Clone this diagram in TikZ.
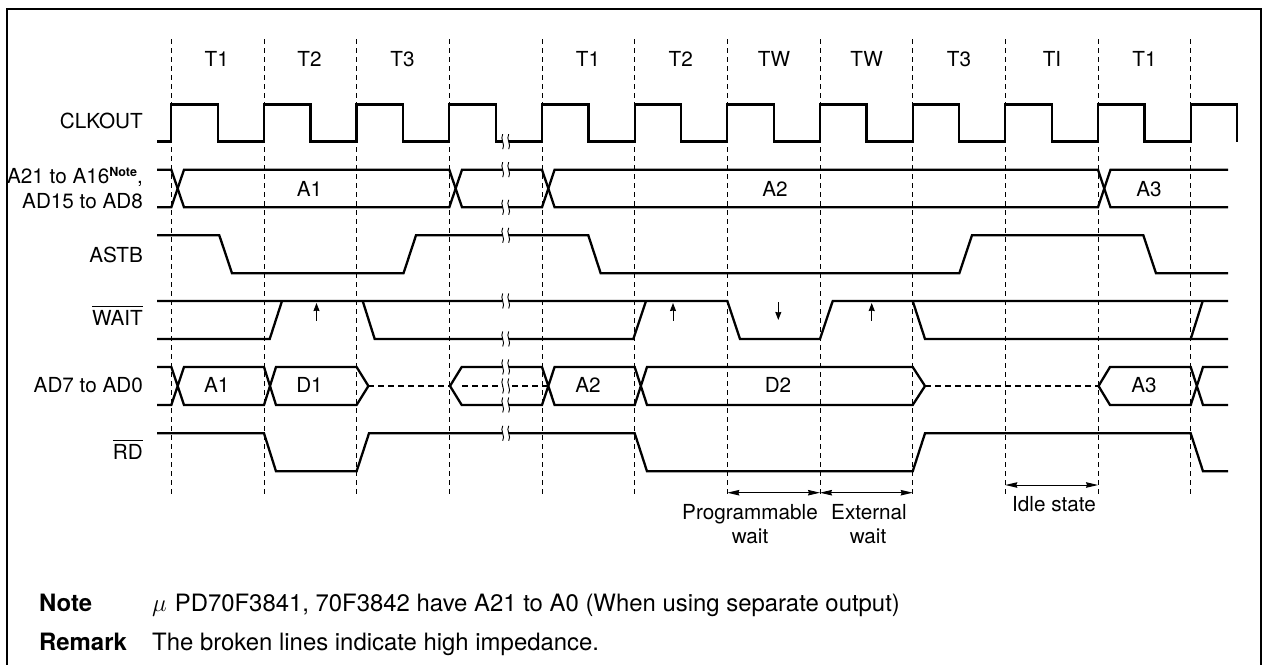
\documentclass[tikz,border=0pt]{standalone}
\usepackage{fontspec}
\setmainfont{TeX Gyre Heros}
\usetikzlibrary{arrows.meta}
\tikzset{
  x=1pt,y=-1pt,
  sig/.style={line width=2.3pt,line join=miter,line cap=butt},
  hiz/.style={line width=2.3pt,dash pattern=on 6pt off 4pt},
  grid/.style={line width=1.25pt,dash pattern=on 5pt off 4pt},
  meas/.style={line width=1pt,{Stealth[length=12pt,width=5.5pt,inset=1pt]}-{Stealth[length=12pt,width=5.5pt,inset=1pt]}},
  edgearrow/.style={line width=1pt,-{Stealth[length=8pt,width=6pt,inset=0.5pt]}},
  lab/.style={font=\fontsize{20.7}{23}\selectfont,inner sep=0pt},
  labr/.style={lab,anchor=base east},
  labc/.style={lab,anchor=base},
  labl/.style={lab,anchor=base west},
  notefont/.style={font=\fontsize{23.9}{27}\selectfont},
  notebold/.style={font=\fontsize{23.9}{27}\selectfont\bfseries},
  brk/.pic={
    \fill[white] (-3,-7.5) .. controls (-6,-3) and (0,3) .. (-3,7.5) -- (3,7.5) .. controls (6,3) and (0,-3) .. (3,-7.5) -- cycle;
    \draw[line width=0.9pt] (-3,-7.5) .. controls (-6,-3) and (0,3) .. (-3,7.5);
    \draw[line width=0.9pt] (3,-7.5) .. controls (0,-3) and (6,3) .. (3,7.5);
  }
}
\newcommand{\ovl}[1]{\setbox0\hbox{#1}\rlap{\rule[18.5pt]{\wd0}{1pt}}\box0\relax}
\begin{document}
\begin{tikzpicture}
\useasboundingbox (0,0) rectangle (1263,664);
% frame
\draw[line width=2.8pt] (7,700) -- (7,9) -- (1261,9) -- (1261,700);
% grid
\foreach \x in {171.3,264.4,356.6,449.3,542.4,634.7,727.3,820.4,912.7,1005.3,1098.4,1190.7}
  \draw[grid] (\x,39) -- (\x,497);
% period labels
\node[labc] (p1) at (216.7,66.7) {T1};
\node[labc] (p2) at (309.5,66.7) {T2};
\node[labc] (p3) at (402.5,66.7) {T3};
\node[labc] (p4) at (588,66.7) {T1};
\node[labc] (p5) at (680.7,66.7) {T2};
\node[labc] (p6) at (774,66.7) {TW};
\node[labc] (p7) at (866.7,66.7) {TW};
\node[labc] (p8) at (959,66.7) {T3};
\node[labc] (p9) at (1052,66.7) {TI};
\node[labc] (p10) at (1144.5,66.7) {T1};
% signal names
\node[labr] (n1) at (143,128) {CLKOUT};
\node[labr] (n2) at (143,183) {A21 to A16\raisebox{7pt}{\fontsize{12.5}{14}\selectfont\bfseries Note},};
\node[labr] (n3) at (143,208.3) {AD15 to AD8};
\node[labr] (n4) at (143,262.5) {ASTB};
\node[labr] (n5) at (143,325.7) {\ovl{WAIT}};
\node[labr] (n6) at (143,392.7) {AD7 to AD0};
\node[labr] (n7) at (143,459.5) {\ovl{RD}};
% CLKOUT
\draw[sig] (157,141.5) -- (171.3,141.5)
  \foreach \x in {171.3,264,356.6,449.3,542,634.7,727.3,820,912.7,1005.3,1098}
    { -- (\x,141.5) -- (\x,104.5) -- (\x+46.4,104.5) -- (\x+46.4,141.5) }
  -- (1190.7,141.5) -- (1190.7,104.5) -- (1237,104.5) -- (1237,141.5);
% address bus
\draw[sig] (157,169.7) -- (171.3,169.7) -- (184,207.3) -- (449.3,207.3) -- (462,169.7) -- (542,169.7) -- (554.6,207.3) -- (1098,207.3) -- (1110.5,169.7) -- (1228,169.7);
\draw[sig] (157,207.3) -- (171.3,207.3) -- (184,169.7) -- (449.3,169.7) -- (462,207.3) -- (542,207.3) -- (554.6,169.7) -- (1098,169.7) -- (1110.5,207.3) -- (1228,207.3);
% ASTB
\draw[sig] (157,235.3) -- (219.3,235.3) -- (232,273.3) -- (403.5,273.3) -- (416,235.3) -- (588.3,235.3) -- (600.7,273.3) -- (959.3,273.3) -- (972,235.3) -- (1143.3,235.3) -- (1156,273.3) -- (1228,273.3);
% WAIT
\draw[sig] (157,339) -- (269.7,339) -- (282,301);
\draw[sig] (157,301) -- (727.3,301) -- (740,339) -- (820,339) -- (832.7,301) -- (1228,301);
\draw[sig] (362.7,301) -- (374.7,339) -- (633.3,339) -- (646,301);
\draw[sig] (912.7,301) -- (925,339) -- (1228,339);
\draw[sig] (1190.7,339) -- (1202.7,301);
\draw[edgearrow] (316.5,320.7) -- (316.5,303);
\draw[edgearrow] (673,320.7) -- (673,303);
\draw[edgearrow] (778.3,302) -- (778.3,320);
\draw[edgearrow] (871.7,320.7) -- (871.7,303);
% AD7-AD0
\draw[sig] (157,367) -- (171.3,367) -- (184,405) -- (264,405) -- (276,367) -- (356.6,367) -- (368.4,386) -- (356.6,405) -- (276,405) -- (264,367) -- (184,367) -- (171.3,405) -- (157,405);
\draw[hiz] (368.4,386) -- (450,386);
\draw[hiz] (462,386) -- (548,386);
\draw[hiz] (925,386) -- (1098,386);
\draw[sig] (548.3,386) -- (542,367) -- (461.7,367) -- (450,386) -- (461.7,405) -- (542,405) -- (554.6,367) -- (634.7,367) -- (647,405) -- (912.7,405) -- (925,386) -- (912.7,367) -- (647,367) -- (634.7,405) -- (554.6,405) -- (548.3,386);
\draw[sig] (1228,367) -- (1203,367) -- (1190.7,405) -- (1110,405) -- (1098.5,386) -- (1110,367) -- (1190.7,367) -- (1203,405) -- (1228,405);
% RD
\draw[sig] (157,433.3) -- (264,433.3) -- (276,471.3) -- (356.6,471.3) -- (369,433.3) -- (634.7,433.3) -- (647,471.3) -- (912.7,471.3) -- (925,433.3) -- (1190.7,433.3) -- (1203,471.3) -- (1228,471.3);
% breaks
\foreach \y in {141.7,169.7,207.3,235.3,301,339,367,386,405,433.3}
  \pic at (505.7,\y) {brk};
% bus labels
\node[labc] (a1) at (309.5,196.5) {A1};
\node[labc] (a2) at (775,196.5) {A2};
\node[labc] (a3) at (1149,196.5) {A3};
\node[labc] (b1) at (216.7,392) {A1};
\node[labc] (b2) at (309.5,392) {D1};
\node[labc] (b3) at (588,392) {A2};
\node[labc] (b4) at (778,392) {D2};
\node[labc] (b5) at (1144,392) {A3};
% measures
\coordinate (m1) at (727.3,492.7);
\coordinate (m2) at (820,492.7);
\coordinate (m3) at (912.7,492.7);
\coordinate (m4) at (1005.3,485);
\coordinate (m5) at (1098,485);
\draw[meas] (m1) -- (m2);
\draw[meas] (m2) -- (m3);
\draw[meas] (m4) -- (m5);
\node[labc] (w1) at (750,519) {Programmable};
\node[labc] (w2) at (750,543) {wait};
\node[labc] (w3) at (869,519) {External};
\node[labc] (w4) at (868,543) {wait};
\node[labc] (w5) at (1054,511.7) {Idle state};
% notes
\node[labl,notebold] (t1) at (39,611.7) {Note};
\node[labl,notefont] (t2) at (152,611.7) {$\mu$\hspace{8pt}PD70F3841, 70F3842 have A21 to A0 (When using separate output)};
\node[labl,notebold] (t3) at (39,650) {Remark};
\node[labl,notefont] (t4) at (152,650) {The broken lines indicate high impedance.};
\end{tikzpicture}
\end{document}
